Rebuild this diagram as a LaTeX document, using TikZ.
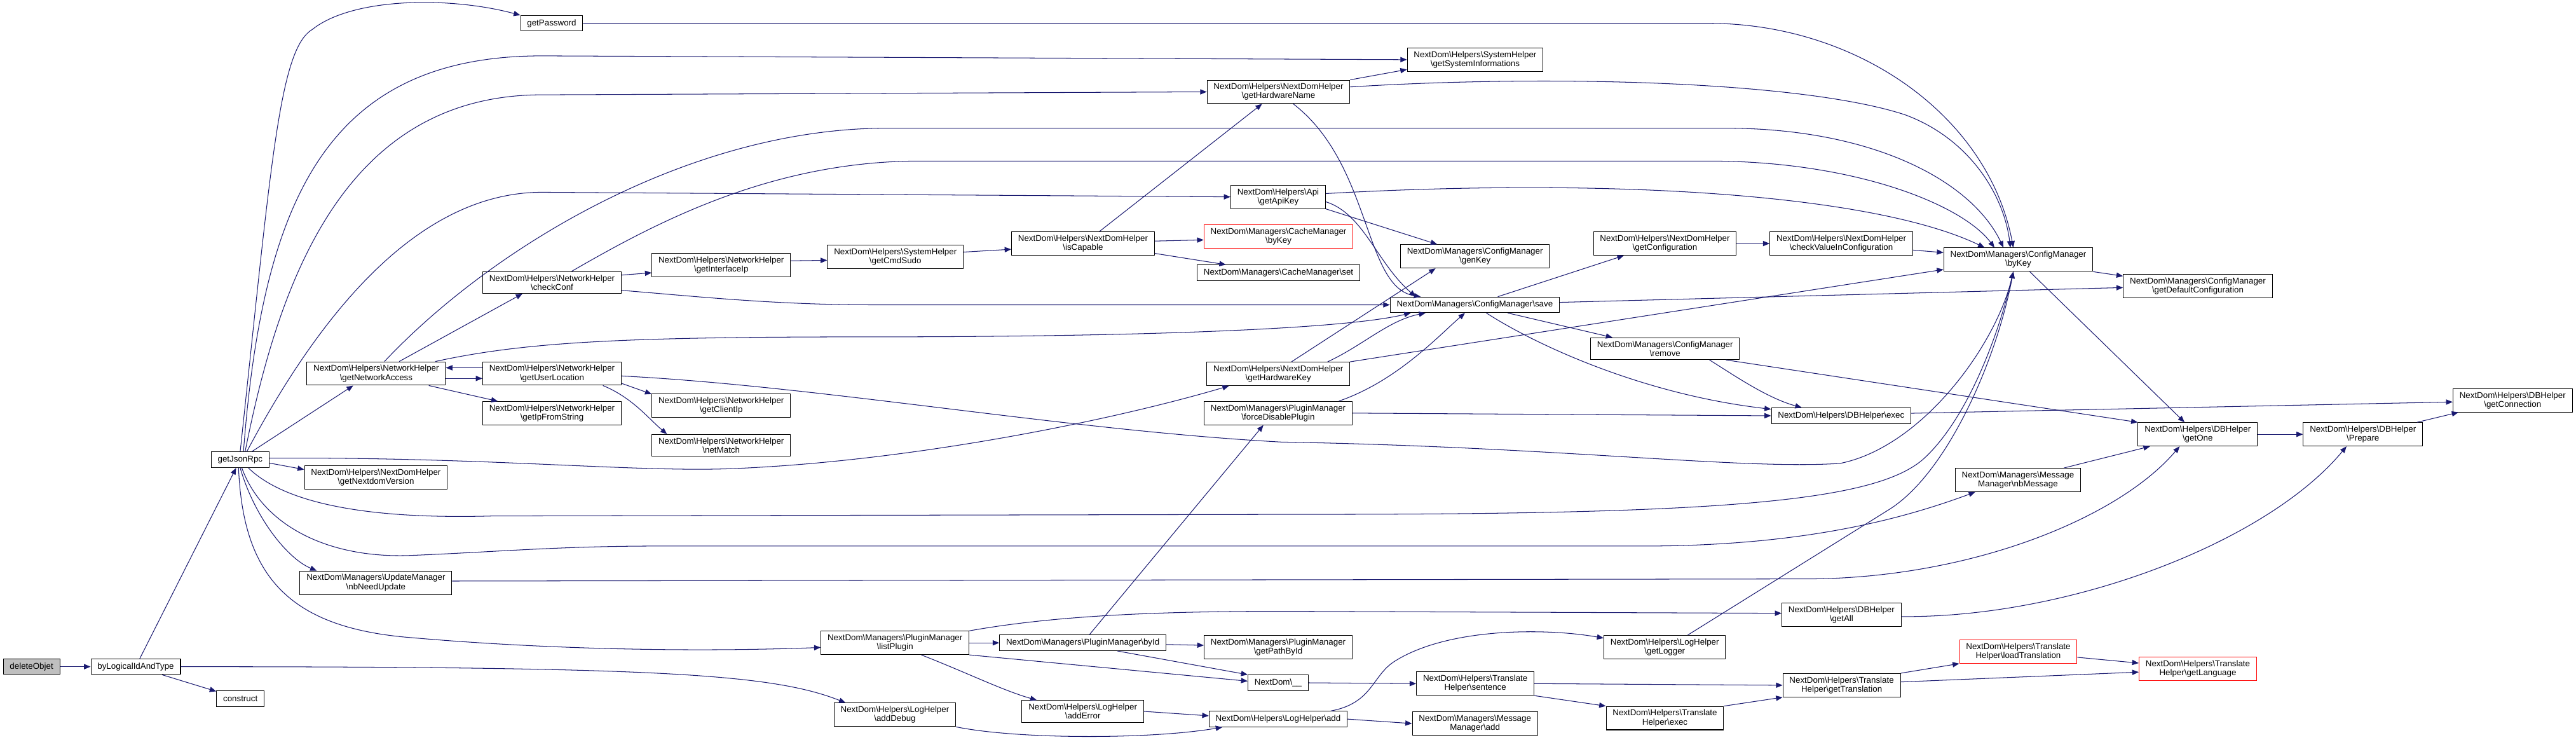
\documentclass[tikz,border=0pt]{standalone}
\usepackage{fontspec}
\setmainfont{Liberation Sans}
\usetikzlibrary{arrows.meta}
\definecolor{callblue}{HTML}{191970}
\newcommand{\bksl}{\textbackslash}

\begin{document}
\begin{tikzpicture}[x=1mm,y=-1mm,
  fn/.style={draw=black,fill=white,line width=0.4mm,inner xsep=4mm,inner ysep=2mm,
    minimum height=9.5mm,align=center,font=\fontsize{14.7}{15.5}\selectfont},
  fnred/.style={fn,draw=red},
  fnsel/.style={fn,fill=black!25},
  call/.style={draw=callblue,line width=0.4mm,-{Triangle[length=4mm,width=3.2mm]}}]
\useasboundingbox[fill=white] (0,0) rectangle (1568,450);

\node[fnsel] (DO) at (19.2,405.7) {deleteObjet};
\node[fn] (BL) at (82.6,405.7) {byLogicalIdAndType};
\node[fn] (CO) at (146.3,425.2) {construct};
\node[fn] (JR) at (146.2,279.8) {getJsonRpc};
\node[fn] (PW) at (335.8,14.2) {getPassword};

\node[fn] (NA) at (229,227.3) {NextDom\bksl Helpers\bksl NetworkHelper\\\bksl getNetworkAccess};
\node[fn] (NV) at (228.8,290.7) {NextDom\bksl Helpers\bksl NextDomHelper\\\bksl getNextdomVersion};
\node[fn] (NNU) at (228.8,354.6) {NextDom\bksl Managers\bksl UpdateManager\\\bksl nbNeedUpdate};
\node[fn] (CC) at (336,171.9) {NextDom\bksl Helpers\bksl NetworkHelper\\\bksl checkConf};
\node[fn] (UL) at (336,227.3) {NextDom\bksl Helpers\bksl NetworkHelper\\\bksl getUserLocation};
\node[fn] (IFS) at (336,251.5) {NextDom\bksl Helpers\bksl NetworkHelper\\\bksl getIpFromString};
\node[fn] (II) at (439,161.2) {NextDom\bksl Helpers\bksl NetworkHelper\\\bksl getInterfaceIp};
\node[fn] (CIP) at (439,246.8) {NextDom\bksl Helpers\bksl NetworkHelper\\\bksl getClientIp};
\node[fn] (NM) at (439,271) {NextDom\bksl Helpers\bksl NetworkHelper\\\bksl netMatch};
\node[fn] (CSU) at (545,156.4) {NextDom\bksl Helpers\bksl SystemHelper\\\bksl getCmdSudo};
\node[fn] (IC) at (659.2,148.2) {NextDom\bksl Helpers\bksl NextDomHelper\\\bksl isCapable};
\node[fn] (LP) at (544.8,391.2) {NextDom\bksl Managers\bksl PluginManager\\\bksl listPlugin};
\node[fn] (AD) at (544.7,435) {NextDom\bksl Helpers\bksl LogHelper\\\bksl addDebug};
\node[fn] (BI) at (659.1,391.2) {NextDom\bksl Managers\bksl PluginManager\bksl byId};
\node[fn] (AE) at (659.1,432.9) {NextDom\bksl Helpers\bksl LogHelper\\\bksl addError};

\node[fn] (HN) at (778.2,55.9) {NextDom\bksl Helpers\bksl NextDomHelper\\\bksl getHardwareName};
\node[fn] (AK) at (778,119.8) {NextDom\bksl Helpers\bksl Api\\\bksl getApiKey};
\node[fnred] (CBK) at (778.2,144) {NextDom\bksl Managers\bksl CacheManager\\\bksl byKey};
\node[fn] (CS) at (778.2,166) {NextDom\bksl Managers\bksl CacheManager\bksl set};
\node[fn] (HK) at (778.1,227.5) {NextDom\bksl Helpers\bksl NextDomHelper\\\bksl getHardwareKey};
\node[fn] (FD) at (778,251.4) {NextDom\bksl Managers\bksl PluginManager\\\bksl forceDisablePlugin};
\node[fn] (PBI) at (778,393.7) {NextDom\bksl Managers\bksl PluginManager\\\bksl getPathById};
\node[fn] (NU) at (778,415.5) {NextDom\bksl\_\_};
\node[fn] (LA) at (778,437.6) {NextDom\bksl Helpers\bksl LogHelper\bksl add};

\node[fn] (SI) at (897.9,36.3) {NextDom\bksl Helpers\bksl SystemHelper\\\bksl getSystemInformations};
\node[fn] (GK) at (897.8,156) {NextDom\bksl Managers\bksl ConfigManager\\\bksl genKey};
\node[fn] (SV) at (897.7,185.5) {NextDom\bksl Managers\bksl ConfigManager\bksl save};
\node[fn] (TS) at (898,416) {NextDom\bksl Helpers\bksl Translate\\Helper\bksl sentence};
\node[fn] (MA) at (897.8,440.3) {NextDom\bksl Managers\bksl Message\\Manager\bksl add};
\node[fn] (GC) at (1013.4,148.2) {NextDom\bksl Helpers\bksl NextDomHelper\\\bksl getConfiguration};
\node[fn] (RM) at (1013.5,212.2) {NextDom\bksl Managers\bksl ConfigManager\\\bksl remove};
\node[fn] (GL) at (1013.3,393.8) {NextDom\bksl Helpers\bksl LogHelper\\\bksl getLogger};
\node[fn] (TE) at (1013.4,437) {NextDom\bksl Helpers\bksl Translate\\Helper\bksl exec};
\node[fn] (CV) at (1120.8,148.2) {NextDom\bksl Helpers\bksl NextDomHelper\\\bksl checkValueInConfiguration};
\node[fn] (DE) at (1120.7,253) {NextDom\bksl Helpers\bksl DBHelper\bksl exec};
\node[fn] (GA) at (1120.9,374.2) {NextDom\bksl Helpers\bksl DBHelper\\\bksl getAll};
\node[fn] (GT) at (1121,417) {NextDom\bksl Helpers\bksl Translate\\Helper\bksl getTranslation};

\node[fn] (BK) at (1228.5,158) {NextDom\bksl Managers\bksl ConfigManager\\\bksl byKey};
\node[fn] (NBM) at (1228.3,292.1) {NextDom\bksl Managers\bksl Message\\Manager\bksl nbMessage};
\node[fnred] (LT) at (1228.5,396.5) {NextDom\bksl Helpers\bksl Translate\\Helper\bksl loadTranslation};
\node[fn] (DC) at (1337.8,174) {NextDom\bksl Managers\bksl ConfigManager\\\bksl getDefaultConfiguration};
\node[fn] (GO) at (1337.7,264.3) {NextDom\bksl Helpers\bksl DBHelper\\\bksl getOne};
\node[fn] (PR) at (1438.3,264.3) {NextDom\bksl Helpers\bksl DBHelper\\\bksl Prepare};
\node[fnred] (GLG) at (1337.8,407) {NextDom\bksl Helpers\bksl Translate\\Helper\bksl getLanguage};
\node[fn] (GCN) at (1529.4,243.6) {NextDom\bksl Helpers\bksl DBHelper\\\bksl getConnection};

\draw[call] (DO) -- (BL);
\draw[call] (BL) -- (JR);
\draw[call] (BL) -- (CO);
\draw[call] (BL.east) .. controls (400,405.7) and (470,410) .. ([xshift=-30mm]AD.north);

\draw[call] (JR.north) .. controls (165,100) and (170,30) .. (190,18) .. controls (215,-2) and (275,-2) .. (PW.north west);
\draw[call] ([xshift=2mm]JR.north) .. controls (160,120) and (200,34) .. (330,34) -- (SI.west);
\draw[call] ([xshift=3mm]JR.north) .. controls (170,170) and (210,57.7) .. (330,57.7) -- (HN.west);
\draw[call] ([xshift=4mm]JR.north) .. controls (190,200) and (250,117) .. (330,117) -- (AK.west);
\draw[call] ([xshift=7mm]JR.north) -- ([xshift=-14mm]NA.south);
\draw[call] ([yshift=-2mm]JR.east) -- ([yshift=5mm]NV.west);
\draw[call] ([yshift=1mm]JR.east) .. controls (300,278) and (390,288) .. (450,285) .. controls (560,280) and (680,255) .. ([xshift=-30mm]HK.south);
\draw[call] ([xshift=5mm]JR.south) .. controls (175,308) and (230,316) .. (300,314) -- (800,313) .. controls (1050,313) and (1140,305) .. (1170,280) .. controls (1195,258) and (1215,210) .. ([xshift=-3mm]BK.south);
\draw[call] ([xshift=1mm]JR.south) .. controls (160,320) and (200,340) .. (250,338) .. controls (300,336) and (340,332.3) .. (400,332.3) -- (1000,332.3) .. controls (1100,332.3) and (1160,315) .. ([xshift=-26mm]NBM.south);
\draw[call] (JR.south) .. controls (155,315) and (175,340) .. ([xshift=-36mm]NNU.north);
\draw[call] ([xshift=-1mm]JR.south) .. controls (148,350) and (175,382) .. (250,388) .. controls (330,395) and (420,397) .. ([yshift=-2.8mm]LP.west);

\draw[call] ([xshift=14mm]NA.north) -- ([xshift=-18mm]CC.south);
\draw[call] ([yshift=-3mm]NA.east) -- ([yshift=-3mm]UL.west);
\draw[call] ([yshift=3.5mm]UL.west) -- ([yshift=3.5mm]NA.east);
\draw[call] ([xshift=32mm]NA.south) -- ([xshift=-33mm]IFS.north);
\draw[call] ([xshift=36mm]NA.north) .. controls (320,208) and (380,205) .. (530,205) .. controls (700,205) and (820,200) .. ([xshift=-39mm]SV.south);
\draw[call] ([xshift=5mm]NA.north) .. controls (300,150) and (420,78) .. (540,78) -- (1050,78) .. controls (1140,78) and (1200,110) .. ([xshift=-9mm]BK.north);
\draw[call] ([xshift=12mm]CC.north) .. controls (400,135) and (470,98) .. (560,98) -- (1040,98) .. controls (1130,98) and (1195,125) .. ([xshift=-14.5mm]BK.north);
\draw[call] ([yshift=4.5mm]CC.east) -- ([yshift=-4.8mm]II.west);
\draw[call] ([yshift=-4.8mm]CC.east) .. controls (420,180) and (470,185.5) .. (530,185.5) -- (SV.west);
\draw[call] ([yshift=2.5mm]II.east) -- ([yshift=-2mm]CSU.west);
\draw[call] ([yshift=3mm]CSU.east) -- ([yshift=-3.5mm]IC.west);
\draw[call] ([xshift=10mm]IC.north) -- ([xshift=-10mm]HN.south);
\draw[call] ([yshift=1.5mm]IC.east) -- ([yshift=-2mm]CBK.west);
\draw[call] ([yshift=-6mm]IC.east) -- ([xshift=-32mm]CS.north);

\draw[call] ([yshift=-6mm]UL.east) -- ([yshift=7mm]CIP.west);
\draw[call] ([xshift=31mm]UL.south) .. controls (385,242) and (395,255) .. ([xshift=-33mm]NM.north);
\draw[call] ([yshift=-1.5mm]UL.east) .. controls (500,235) and (650,262) .. (780,269) .. controls (950,272) and (1060,286) .. (1120,282) .. controls (1170,272) and (1215,210) .. ([xshift=-3mm]BK.south);

\draw[call] (HN.north east) -- ([yshift=-6mm]SI.west);
\draw[call] ([yshift=3mm]HN.east) .. controls (950,45) and (1100,50) .. (1160,70) .. controls (1200,85) and (1220,120) .. ([xshift=-4.8mm]BK.north);
\draw[call] ([xshift=9mm]HN.south) .. controls (835,100) and (830,175) .. ([xshift=-33mm]SV.north);
\draw[call] (PW.east) -- (1040,14.2) .. controls (1130,14.2) and (1210,70) .. ([xshift=-3mm]BK.north);

\draw[call] ([yshift=2mm]AK.east) .. controls (980,108) and (1140,118) .. ([xshift=-20.5mm]BK.north);
\draw[call] (AK.south east) -- ([xshift=-23mm]GK.north);
\draw[call] ([yshift=-3mm]AK.east) .. controls (830,130) and (838,160) .. ([xshift=-36mm]SV.north);

\draw[call] ([xshift=8mm]HK.north) -- ([xshift=-24mm]GK.south);
\draw[call] ([xshift=30mm]HK.north) .. controls (830,210) and (845,195) .. ([xshift=-30mm]SV.south);
\draw[call] (HK.north east) -- ([yshift=-6mm]BK.west);
\draw[call] ([xshift=37mm]FD.north) .. controls (850,232) and (875,205) .. ([xshift=-6mm]SV.south);
\draw[call] (FD.east) -- (DE.west);

\draw[call] ([xshift=14mm]SV.north) -- ([xshift=-25mm]GC.south);
\draw[call] ([xshift=20mm]SV.south) -- ([xshift=-32mm]RM.north);
\draw[call] ([xshift=7mm]SV.south) .. controls (935,210) and (1000,240) .. ([yshift=4mm]DE.west);
\draw[call] ([yshift=1.5mm]SV.east) -- ([yshift=-1mm]DC.west);
\draw[call] (GC) -- (CV);
\draw[call] ([xshift=27mm]RM.south) .. controls (1055,228) and (1075,242) .. ([xshift=-24mm]DE.north);
\draw[call] ([xshift=37mm]RM.south) -- (GO.north west);
\draw[call] ([yshift=-4mm]CV.east) -- ([yshift=4.3mm]BK.west);
\draw[call] ([xshift=7mm]BK.south) -- ([xshift=-8mm]GO.north);
\draw[call] (BK.south east) -- ([yshift=6mm]DC.west);
\draw[call] ([yshift=1.5mm]DE.east) -- ([yshift=-1mm]GCN.west);
\draw[call] ([xshift=28mm]NBM.north) -- ([xshift=-29mm]GO.south);
\draw[call] (GO) -- (PR);
\draw[call] ([xshift=33mm]PR.north) -- ([xshift=-33mm]GCN.south);
\draw[call] ([yshift=1mm]NNU.east) -- (1100,352.3) .. controls (1200,352) and (1290,315) .. ([xshift=-11mm]GO.south);
\draw[call] ([yshift=-1mm]GA.east) .. controls (1260,376) and (1380,330) .. ([xshift=-10mm]PR.south);

\draw[call] (LP.east) -- (BI.west);
\draw[call] (LP.north east) .. controls (640,375) and (700,372) .. (780,372) -- ([yshift=1mm]GA.west);
\draw[call] (LP.south east) -- ([yshift=1mm]NU.west);
\draw[call] ([xshift=16mm]LP.south) .. controls (590,410) and (610,420) .. ([xshift=-28mm]AE.north);
\draw[call] ([xshift=4mm]BI.north) -- ([xshift=-9mm]FD.south);
\draw[call] ([yshift=-1mm]BI.east) -- ([yshift=1mm]PBI.west);
\draw[call] ([xshift=21mm]BI.south) -- (NU.north west);

\draw[call] (AE.east) -- ([yshift=2mm]LA.west);
\draw[call] (AD.south east) .. controls (620,450) and (700,450) .. ([xshift=-34mm]LA.south);
\draw[call] (LA.east) -- (MA.west);
\draw[call] ([xshift=32mm]LA.north) .. controls (835,428) and (835,412) .. (848,403) .. controls (880,382) and (940,382) .. ([yshift=5.5mm]GL.west);
\draw[call] ([xshift=14mm]GL.north) -- (1150,310) .. controls (1185,288) and (1215,220) .. ([xshift=-3mm]BK.south);

\draw[call] (NU.east) -- (TS.west);
\draw[call] (TS.east) -- (GT.west);
\draw[call] (TS.south east) -- (TE.north west);
\draw[call] (TE.north east) -- (GT.south west);
\draw[call] (GT.north east) -- (LT.south west);
\draw[call] ([yshift=2mm]GT.east) -- ([yshift=-2mm]GLG.west);
\draw[call] ([yshift=-3.5mm]LT.east) -- ([yshift=3.5mm]GLG.west);

\end{tikzpicture}
\end{document}
